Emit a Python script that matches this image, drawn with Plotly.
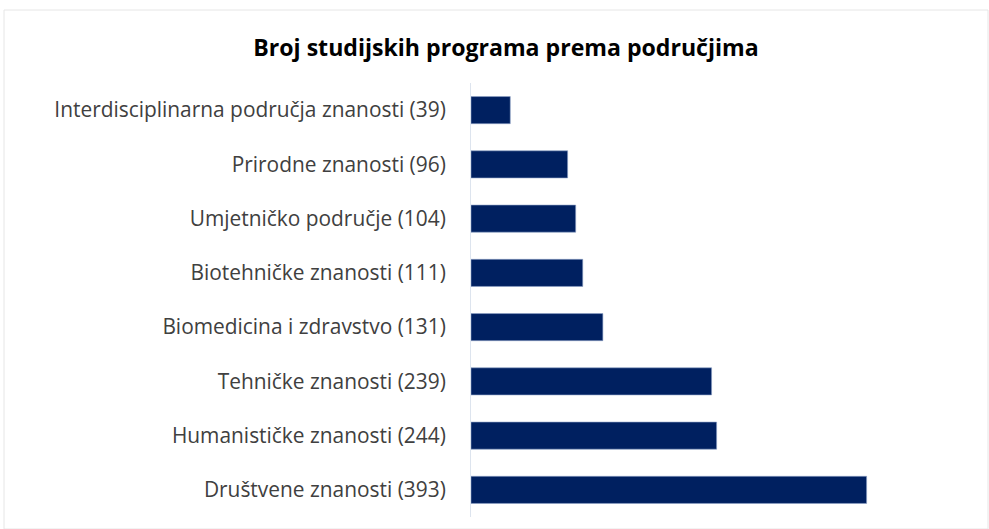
import plotly.graph_objects as go

# Study programmes by scientific field
fields = [
    "Društvene znanosti",
    "Humanističke znanosti",
    "Tehničke znanosti",
    "Biomedicina i zdravstvo",
    "Biotehničke znanosti",
    "Umjetničko područje",
    "Prirodne znanosti",
    "Interdisciplinarna područja znanosti",
]
counts = [393, 244, 239, 131, 111, 104, 96, 39]
labels = [f"{f} ({c})" for f, c in zip(fields, counts)]

W, H = 989, 529
ml, mr, mt, mb = 471, 65, 83, 12

fig = go.Figure(
    go.Bar(
        x=counts,
        y=labels,
        orientation="h",
        marker=dict(color="#002060", line=dict(color="#8ea2c8", width=0.6)),
        hoverinfo="skip",
    )
)

fig.update_layout(
    width=W,
    height=H,
    margin=dict(l=ml, r=mr, t=mt, b=mb),
    paper_bgcolor="white",
    plot_bgcolor="white",
    bargap=0.5,
    showlegend=False,
    font=dict(family="Open Sans, Liberation Sans, sans-serif", size=20.9, color="#404040"),
    title=dict(
        text="<b>Broj studijskih programa prema područjima</b>",
        x=506 / W,
        xanchor="center",
        y=1 - 48 / H,
        yanchor="middle",
        font=dict(size=23.1, color="#000000"),
    ),
    xaxis=dict(visible=False, range=[0, 450], fixedrange=True),
    yaxis=dict(
        showline=True,
        linecolor="#dde4ee",
        linewidth=1,
        showgrid=False,
        ticks="",
        ticklabelstandoff=20,
        fixedrange=True,
    ),
)

# Light frame around the chart area
pw = W - ml - mr
ph = H - mt - mb
def px_x(v):
    return (v - ml) / pw
def px_y(v):
    return 1 - (v - mt) / ph

fig.add_shape(
    type="rect", xref="paper", yref="paper",
    x0=px_x(4), x1=px_x(988), y0=px_y(529), y1=px_y(10),
    line=dict(color="#e6e6e6", width=1), layer="below",
)

fig.write_html("out.html")
